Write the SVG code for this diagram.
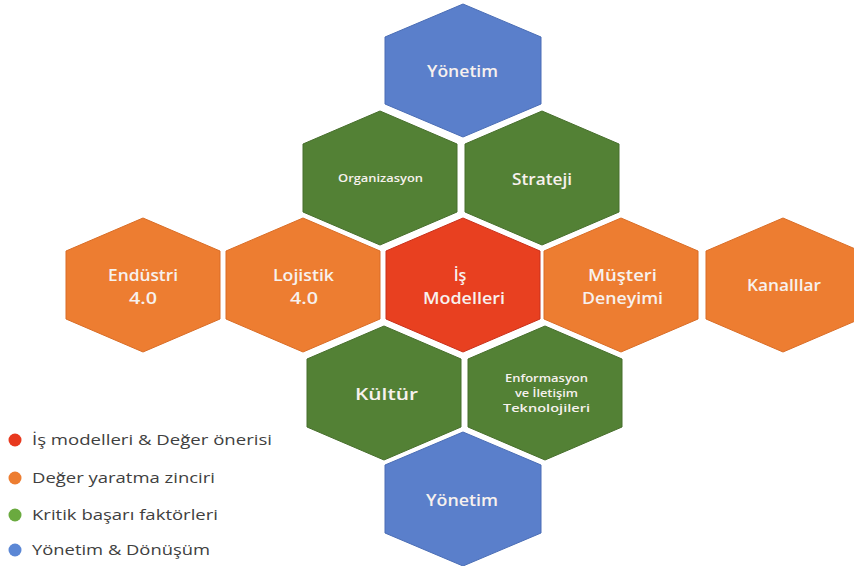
<svg xmlns="http://www.w3.org/2000/svg" width="854" height="566" viewBox="0 0 854 566">
<style>
.hex{stroke-width:1}
.blue{fill:#5A7FCB;stroke:#4A6DB5}
.green{fill:#538135;stroke:#476F2C}
.orange{fill:#ED7D31;stroke:#D96D26}
.red{fill:#E84020;stroke:#C8301A}
.t{font-family:"Open Sans","Liberation Sans",Arial,sans-serif;font-weight:600;fill:#F7F1EE;text-anchor:middle}
.big{font-size:16px}
.small{font-size:10.5px}
.leg{font-family:"Open Sans","Liberation Sans",Arial,sans-serif;font-size:14px;fill:#404040}
</style>
<rect width="854" height="566" fill="#FFFFFF"/>
<g id="connectors"></g>
<g id="yonetim-top">
<polygon class="hex blue" points="463,4 541,37 541,104 463,137 385,104 385,37"/>
<text class="t big" x="462.5" y="77" textLength="71" lengthAdjust="spacingAndGlyphs">Yönetim</text>
</g>
<g id="organizasyon">
<polygon class="hex green" points="380,111 457,144 457,212 380,245 303,212 303,144"/>
<text class="t small" x="380.5" y="182" textLength="85" lengthAdjust="spacingAndGlyphs">Organizasyon</text>
</g>
<g id="strateji">
<polygon class="hex green" points="542,111 619,144 619,212 542,245 465,212 465,144"/>
<text class="t big" x="542" y="185" textLength="60" lengthAdjust="spacingAndGlyphs">Strateji</text>
</g>
<g id="endustri">
<polygon class="hex orange" points="143,218 220,251 220,319 143,352 66,319 66,251"/>
<text class="t big" x="143" y="281" textLength="70" lengthAdjust="spacingAndGlyphs">Endüstri</text>
<text class="t big" x="143" y="304" textLength="28" lengthAdjust="spacingAndGlyphs">4.0</text>
</g>
<g id="lojistik">
<polygon class="hex orange" points="303,218 380,251 380,319 303,352 226,319 226,251"/>
<text class="t big" x="303.5" y="281" textLength="61" lengthAdjust="spacingAndGlyphs">Lojistik</text>
<text class="t big" x="304" y="304" textLength="28" lengthAdjust="spacingAndGlyphs">4.0</text>
</g>
<g id="is-modelleri">
<polygon class="hex red" points="463,218 540,251 540,319 463,352 386,319 386,251"/>
<text class="t big" x="460" y="281">İş</text>
<text class="t big" x="464" y="304" textLength="82" lengthAdjust="spacingAndGlyphs">Modelleri</text>
</g>
<g id="musteri-deneyimi">
<polygon class="hex orange" points="621,218 698,251 698,319 621,352 544,319 544,251"/>
<text class="t big" x="622.5" y="281" textLength="69" lengthAdjust="spacingAndGlyphs">Müşteri</text>
<text class="t big" x="622.5" y="304" textLength="81" lengthAdjust="spacingAndGlyphs">Deneyimi</text>
</g>
<g id="kanallar">
<polygon class="hex orange" points="783,218 860,251 860,319 783,352 706,319 706,251"/>
<text class="t big" x="784" y="291" textLength="74" lengthAdjust="spacingAndGlyphs">Kanalllar</text>
</g>
<g id="kultur">
<polygon class="hex green" points="384,326 461,359 461,427 384,460 307,427 307,359"/>
<text class="t big" x="386.5" y="400" textLength="63" lengthAdjust="spacingAndGlyphs">Kültür</text>
</g>
<g id="enformasyon">
<polygon class="hex green" points="545,326 622,359 622,427 545,460 468,427 468,359"/>
<text class="t small" x="546.5" y="382" textLength="83" lengthAdjust="spacingAndGlyphs">Enformasyon</text>
<text class="t small" x="546.5" y="397" textLength="63" lengthAdjust="spacingAndGlyphs">ve İletişim</text>
<text class="t small" x="546.5" y="412" textLength="87" lengthAdjust="spacingAndGlyphs">Teknolojileri</text>
</g>
<g id="yonetim-bottom">
<polygon class="hex blue" points="463,432 541,465 541,533 463,566 385,533 385,465"/>
<text class="t big" x="462" y="506" textLength="72" lengthAdjust="spacingAndGlyphs">Yönetim</text>
</g>
<g id="legend">
<circle cx="15" cy="440" r="6.5" fill="#E8391E"/>
<text class="leg" x="32" y="445" textLength="240" lengthAdjust="spacingAndGlyphs">İş modelleri &amp; Değer önerisi</text>
<circle cx="15" cy="478" r="6.5" fill="#ED7D31"/>
<text class="leg" x="32" y="483" textLength="183" lengthAdjust="spacingAndGlyphs">Değer yaratma zinciri</text>
<circle cx="15" cy="515" r="6.5" fill="#6AAA3F"/>
<text class="leg" x="32" y="520" textLength="186" lengthAdjust="spacingAndGlyphs">Kritik başarı faktörleri</text>
<circle cx="15" cy="550" r="6.5" fill="#5B87D5"/>
<text class="leg" x="32" y="555" textLength="178" lengthAdjust="spacingAndGlyphs">Yönetim &amp; Dönüşüm</text>
</g>
</svg>
